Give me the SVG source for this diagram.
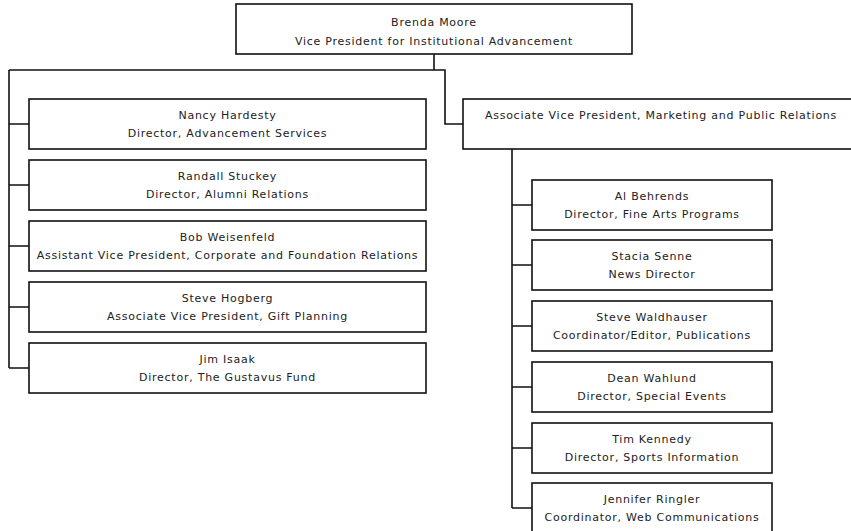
<svg xmlns="http://www.w3.org/2000/svg" width="851" height="531" viewBox="0 0 851 531">
  <style>
    .box { fill: #ffffff; stroke: #111111; stroke-width: 1.6; }
    .wire { fill: none; stroke: #111111; stroke-width: 1.6; }
    text { font-family: "DejaVu Sans", Verdana, sans-serif; font-size: 11px; letter-spacing: 0.75px; fill: #222222; text-anchor: middle; }
  </style>
  <rect width="851" height="531" fill="#ffffff"/>

  <!-- connectors -->
  <g id="connectors">
    <!-- VP down to the two branches -->
    <path class="wire" d="M434,54 V70"/>
    <path class="wire" d="M9,70 H434"/>
    <path class="wire" d="M434,70 H445 V124 H463"/>
    <!-- left branch -->
    <path class="wire" d="M9,70 V368"/>
    <path class="wire" d="M9,124 H29 M9,185 H29 M9,246 H29 M9,307 H29 M9,368 H29"/>
    <!-- marketing branch -->
    <path class="wire" d="M512,149 V508"/>
    <path class="wire" d="M512,205 H532 M512,265 H532 M512,326 H532 M512,387 H532 M512,448 H532 M512,508 H532"/>
  </g>

  <g id="vp">
    <rect class="box" x="236" y="4" width="396" height="50"/>
    <text x="434" y="26">Brenda Moore</text>
    <text x="434" y="45">Vice President for Institutional Advancement</text>
  </g>

  <g id="hardesty">
    <rect class="box" x="29" y="99" width="397" height="50"/>
    <text x="227.5" y="119">Nancy Hardesty</text>
    <text x="227.5" y="137">Director, Advancement Services</text>
  </g>
  <g id="stuckey">
    <rect class="box" x="29" y="160" width="397" height="50"/>
    <text x="227.5" y="180">Randall Stuckey</text>
    <text x="227.5" y="198">Director, Alumni Relations</text>
  </g>
  <g id="weisenfeld">
    <rect class="box" x="29" y="221" width="397" height="50"/>
    <text x="227.5" y="241">Bob Weisenfeld</text>
    <text x="227.5" y="259">Assistant Vice President, Corporate and Foundation Relations</text>
  </g>
  <g id="hogberg">
    <rect class="box" x="29" y="282" width="397" height="50"/>
    <text x="227.5" y="302">Steve Hogberg</text>
    <text x="227.5" y="320">Associate Vice President, Gift Planning</text>
  </g>
  <g id="isaak">
    <rect class="box" x="29" y="343" width="397" height="50"/>
    <text x="227.5" y="363">Jim Isaak</text>
    <text x="227.5" y="381">Director, The Gustavus Fund</text>
  </g>

  <g id="marketing">
    <rect class="box" x="463" y="99" width="396" height="50"/>
    <text x="661" y="119">Associate Vice President, Marketing and Public Relations</text>
  </g>

  <g id="behrends">
    <rect class="box" x="532" y="180" width="240" height="50"/>
    <text x="652" y="200">Al Behrends</text>
    <text x="652" y="218">Director, Fine Arts Programs</text>
  </g>
  <g id="senne">
    <rect class="box" x="532" y="240" width="240" height="50"/>
    <text x="652" y="260">Stacia Senne</text>
    <text x="652" y="278">News Director</text>
  </g>
  <g id="waldhauser">
    <rect class="box" x="532" y="301" width="240" height="50"/>
    <text x="652" y="321">Steve Waldhauser</text>
    <text x="652" y="339">Coordinator/Editor, Publications</text>
  </g>
  <g id="wahlund">
    <rect class="box" x="532" y="362" width="240" height="50"/>
    <text x="652" y="382">Dean Wahlund</text>
    <text x="652" y="400">Director, Special Events</text>
  </g>
  <g id="kennedy">
    <rect class="box" x="532" y="423" width="240" height="50"/>
    <text x="652" y="443">Tim Kennedy</text>
    <text x="652" y="461">Director, Sports Information</text>
  </g>
  <g id="ringler">
    <rect class="box" x="532" y="483" width="240" height="50"/>
    <text x="652" y="503">Jennifer Ringler</text>
    <text x="652" y="521">Coordinator, Web Communications</text>
  </g>
</svg>
